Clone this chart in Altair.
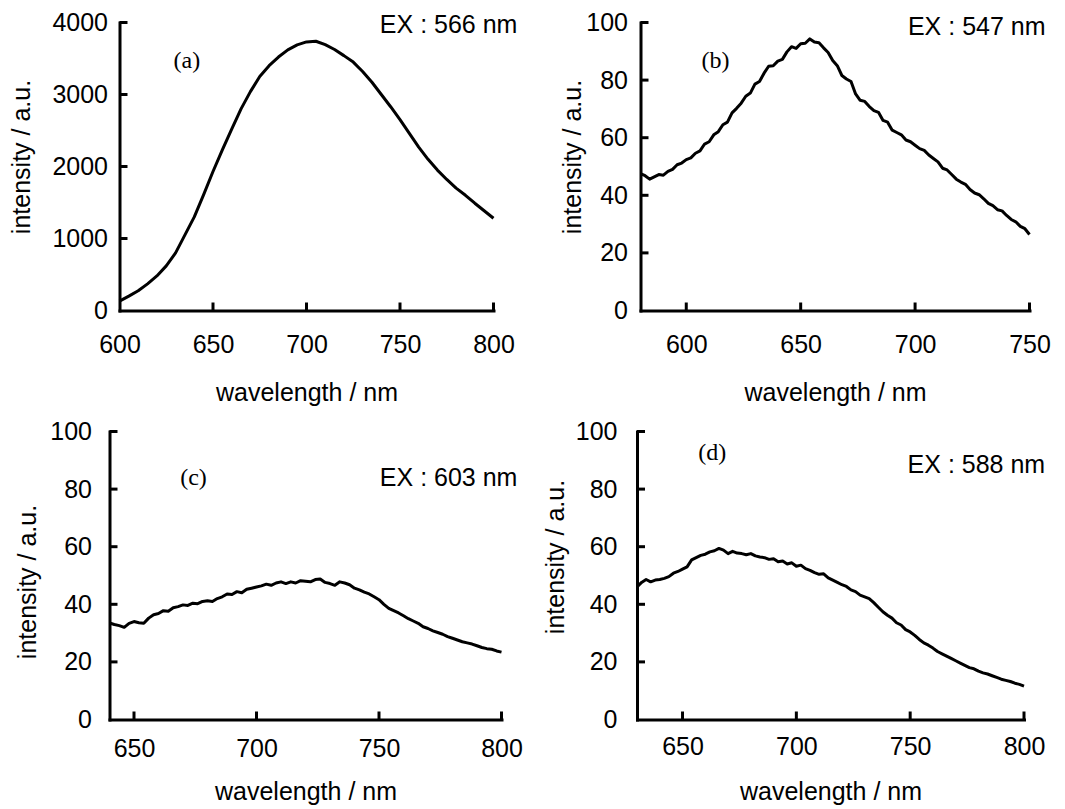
import altair as alt
import pandas as pd

# ---------------- data ----------------
a_wl = [600, 605, 610, 615, 620, 625, 630, 635, 640, 645, 650, 655, 660, 665, 670, 675, 680, 685, 690, 695,
        700, 705, 710, 715, 720, 725, 730, 735, 740, 745, 750, 755, 760, 765, 770, 775, 780, 785, 790, 795, 800]
a_val = [130, 200, 275, 370, 480, 620, 800, 1050, 1300, 1610, 1930, 2232, 2520, 2800, 3040, 3250, 3400, 3520, 3620, 3690,
         3730, 3740, 3692, 3625, 3540, 3450, 3320, 3170, 3000, 2830, 2650, 2460, 2270, 2100, 1950, 1820, 1700, 1600, 1490, 1385, 1281]

b_wl = [580, 582, 584, 586, 588, 590, 592, 594, 596, 598, 600, 602, 604, 606, 608, 610, 612, 614, 616, 618,
        620, 622, 624, 626, 628, 630, 632, 634, 636, 638, 640, 642, 644, 646, 648, 650, 652, 654, 656, 658,
        660, 662, 664, 666, 668, 670, 672, 674, 676, 678, 680, 682, 684, 686, 688, 690, 692, 694, 696, 698,
        700, 702, 704, 706, 708, 710, 712, 714, 716, 718, 720, 722, 724, 726, 728, 730, 732, 734, 736, 738,
        740, 742, 744, 746, 748, 750]
b_val = [47.5, 46.8, 45.6, 46.4, 47.2, 47.0, 48.3, 49.0, 50.6, 51.2, 52.4, 53.0, 54.6, 55.4, 57.8, 58.6, 61.0, 62.1, 64.5, 65.4,
         68.6, 70.2, 72.0, 74.4, 75.5, 78.6, 79.5, 82.4, 84.8, 85.0, 86.6, 87.2, 89.8, 91.6, 91.0, 92.6, 92.8, 94.3, 93.2, 93.0,
         91.2, 89.6, 86.8, 85.0, 81.6, 80.4, 79.5, 75.2, 73.0, 72.6, 70.8, 69.4, 68.8, 66.0, 65.4, 62.6, 61.8, 61.0, 59.2, 58.6,
         57.4, 56.2, 55.6, 54.0, 52.8, 51.6, 49.4, 48.8, 47.2, 45.6, 44.6, 43.8, 42.0, 40.8, 40.2, 38.8, 37.2, 36.4, 35.0, 34.6,
         33.0, 31.6, 30.8, 29.2, 28.4, 26.4]

c_wl = [640, 642, 644, 646, 648, 650, 652, 654, 656, 658, 660, 662, 664, 666, 668, 670, 672, 674, 676, 678,
        680, 682, 684, 686, 688, 690, 692, 694, 696, 698, 700, 702, 704, 706, 708, 710, 712, 714, 716, 718,
        720, 722, 724, 726, 728, 730, 732, 734, 736, 738, 740, 742, 744, 746, 748, 750, 752, 754, 756, 758,
        760, 762, 764, 766, 768, 770, 772, 774, 776, 778, 780, 782, 784, 786, 788, 790, 792, 794, 796, 798, 800]
c_val = [33.5, 33.0, 32.6, 32.0, 33.4, 34.0, 33.6, 33.4, 35.2, 36.4, 36.8, 37.8, 37.6, 38.8, 39.2, 39.8, 39.6, 40.4, 40.2, 41.0,
         41.2, 41.0, 42.0, 42.6, 43.6, 43.4, 44.4, 44.0, 45.2, 45.6, 46.0, 46.4, 47.0, 46.6, 47.4, 47.8, 47.2, 47.8, 47.4, 48.2,
         48.0, 47.8, 48.6, 48.8, 47.6, 47.2, 46.6, 47.8, 47.4, 46.8, 45.6, 45.0, 44.2, 43.6, 42.6, 41.6, 40.0, 38.6, 37.8, 37.0,
         36.0, 35.0, 34.2, 33.4, 32.2, 31.6, 30.8, 30.2, 29.6, 28.8, 28.2, 27.6, 27.0, 26.6, 26.2, 25.6, 25.0, 24.6, 24.4, 23.8, 23.4]

d_wl = [630, 632, 634, 636, 638, 640, 642, 644, 646, 648, 650, 652, 654, 656, 658, 660, 662, 664, 666, 668,
        670, 672, 674, 676, 678, 680, 682, 684, 686, 688, 690, 692, 694, 696, 698, 700, 702, 704, 706, 708,
        710, 712, 714, 716, 718, 720, 722, 724, 726, 728, 730, 732, 734, 736, 738, 740, 742, 744, 746, 748,
        750, 752, 754, 756, 758, 760, 762, 764, 766, 768, 770, 772, 774, 776, 778, 780, 782, 784, 786, 788,
        790, 792, 794, 796, 798, 800]
d_val = [46.0, 47.6, 48.6, 47.8, 48.4, 48.6, 49.0, 49.6, 50.8, 51.4, 52.2, 53.0, 55.4, 56.2, 57.0, 57.4, 58.2, 58.6, 59.4, 58.8,
         57.6, 58.4, 57.8, 57.6, 57.2, 57.6, 56.8, 56.4, 56.2, 55.6, 55.8, 54.8, 55.0, 54.0, 54.4, 53.2, 53.6, 52.4, 51.8, 51.0,
         50.4, 50.6, 49.2, 48.4, 47.6, 46.8, 46.2, 45.0, 44.4, 43.2, 42.6, 42.0, 40.6, 39.0, 37.4, 36.2, 35.2, 33.6, 32.8, 31.2,
         30.4, 29.2, 27.8, 26.6, 25.8, 24.8, 23.6, 22.8, 22.0, 21.2, 20.4, 19.6, 18.8, 18.0, 17.6, 16.8, 16.2, 15.8, 15.2, 14.6,
         14.0, 13.6, 13.2, 12.6, 12.2, 11.6]

# axis tick values
a_xticks = [600, 650, 700, 750, 800]
a_yticks = [0, 1000, 2000, 3000, 4000]
b_xticks = [600, 650, 700, 750]
c_xticks = [650, 700, 750, 800]
d_xticks = [650, 700, 750, 800]
pct_yticks = [0, 20, 40, 60, 80, 100]

# annotations
panel_labels = ["(a)", "(b)", "(c)", "(d)"]
ex_labels = ["EX : 566 nm", "EX : 547 nm", "EX : 603 nm", "EX : 588 nm"]

SANS = "Liberation Sans"
SERIF = "Liberation Serif"
FS = 25
TICK = 8  # inward tick length in pixels


def make_panel(wl, val, xdom, xvals, ydom, yvals, w, h,
               ylpad, ytx, yty, xlpad, xty,
               lab, lab_x, lab_y, ex, ex_x, ex_y, shift=0):
    # curve + inward ticks (as short two-point segments), one group per segment
    dy = (ydom[1] - ydom[0]) * TICK / h
    dx = (xdom[1] - xdom[0]) * TICK / w
    rw, rv, rg = list(wl), list(val), ["curve"] * len(wl)
    for i, v in enumerate([v for v in xvals if v != xdom[0]]):
        rw += [v, v]
        rv += [ydom[0], ydom[0] + dy]
        rg += ["xt%d" % i] * 2
    for i, v in enumerate([v for v in yvals if v != ydom[0]]):
        rw += [xdom[0], xdom[0] + dx]
        rv += [v, v]
        rg += ["yt%d" % i] * 2
    df = pd.DataFrame({"wl": rw, "val": rv, "g": rg})

    xs = alt.Scale(domain=xdom, nice=False, zero=False, range=[-shift, w - shift])
    ys = alt.Scale(domain=ydom, nice=False, zero=False)
    xa = alt.Axis(values=xvals, title="wavelength / nm", labelPadding=xlpad, labelBaseline="middle",
                  titleY=xty, titleBaseline="middle", titleAlign="center")
    ya = alt.Axis(values=yvals, title="intensity / a.u.", labelPadding=ylpad, format="d", offset=shift,
                  titleX=ytx, titleY=yty, titleAngle=270, titleBaseline="middle", titleAlign="center")
    X = lambda: alt.X("wl:Q", scale=xs, axis=xa, title="wavelength / nm")
    Y = lambda: alt.Y("val:Q", scale=ys, axis=ya, title="intensity / a.u.")

    line = alt.Chart(df).mark_line(color="black", strokeWidth=3, strokeJoin="round").encode(
        x=X(), y=Y(), detail="g:N")
    lab_t = alt.Chart(pd.DataFrame({"wl": [lab_x], "val": [lab_y], "t": [lab]})).mark_text(
        font=SERIF, fontSize=24, align="center", baseline="middle", color="black").encode(
        x=X(), y=Y(), text="t:N")
    ex_t = alt.Chart(pd.DataFrame({"wl": [ex_x], "val": [ex_y], "t": [ex]})).mark_text(
        font=SANS, fontSize=FS, align="right", baseline="middle", color="black").encode(
        x=X(), y=Y(), text="t:N")
    return alt.layer(line, lab_t, ex_t).properties(width=w - shift, height=h)


pa = make_panel(a_wl, a_val, [600, 800], a_xticks, [0, 4000], a_yticks, 374, 288,
                12, -98, 134, 34, 82,
                panel_labels[0], 636, 3472, ex_labels[0], 812.8, 3972)
pb = make_panel(b_wl, b_val, [580, 750], b_xticks, [0, 100], pct_yticks, 389, 288,
                13, -68, 134, 34, 82,
                panel_labels[1], 612.8, 86.8, ex_labels[1], 757.0, 98.3)
pc = make_panel(c_wl, c_val, [640, 800], c_xticks, [0, 100], pct_yticks, 392, 288,
                18, -82, 150, 29, 72,
                panel_labels[2], 674.3, 84, ex_labels[2], 806.5, 84, shift=10)
pd_ = make_panel(d_wl, d_val, [630, 800], d_xticks, [0, 100], pct_yticks, 387, 288,
                 20, -82, 125, 27, 72,
                 panel_labels[3], 663, 92.7, ex_labels[3], 809.3, 88.2)

chart = alt.vconcat(
    alt.hconcat(pa, pb, spacing=43),
    alt.hconcat(pc, pd_, spacing=20.5),
    spacing=14,
).properties(
    padding={"left": 1.5, "top": 2.5, "right": 4, "bottom": 3}
).configure_view(
    strokeWidth=0
).configure_axis(
    grid=False, ticks=False, tickSize=0,
    labelFont=SANS, titleFont=SANS, labelFontSize=FS, titleFontSize=FS,
    labelColor="black", titleColor="black", titleFontWeight="normal",
    domainColor="black", domainWidth=3, domainCap="square",
    labelFlush=False, labelOverlap=False,
)

chart.save("out.html", embed_options={"renderer": "svg", "actions": False})
